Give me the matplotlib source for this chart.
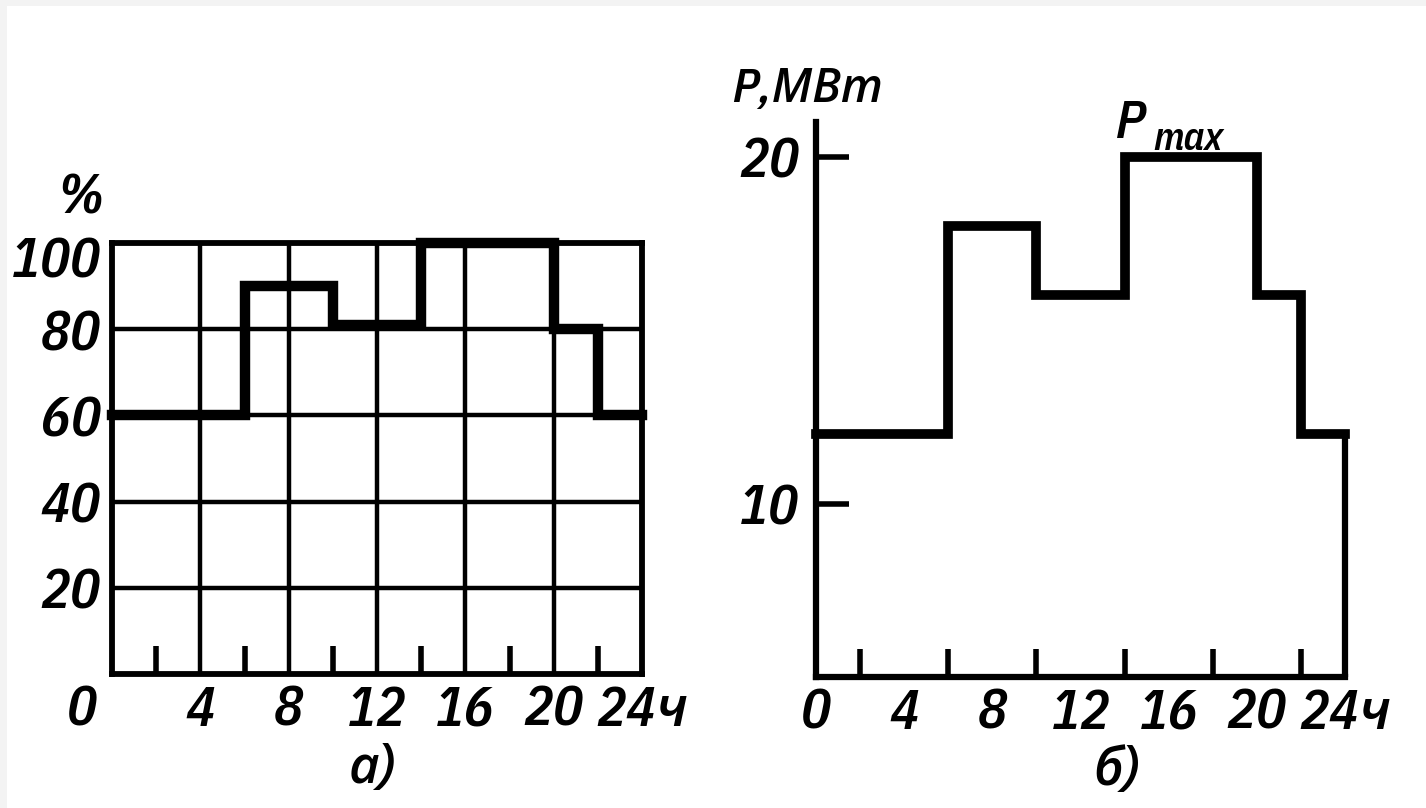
import matplotlib.pyplot as plt
from matplotlib.patches import Rectangle
from matplotlib.transforms import ScaledTranslation

# daily load graphs: a) in % of max, b) in MW
hours = [0, 6, 10, 14, 20, 22, 24]
load_pct = [60, 90, 81, 100, 80, 60]
load_mw = [12, 18, 16, 20, 16, 12]

x_ticks = [0, 4, 8, 12, 16, 20, 24]
x_labels = ["0", "4", "8", "12", "16", "20", "24ч"]
minor_a = [2, 6, 10, 14, 18, 22]
minor_b = [2, 4, 6, 8, 10, 12, 14, 16, 18, 20, 22]
pct_ticks = [20, 40, 60, 80, 100]
mw_ticks = [10, 20]

# condensed italic for digits, Open Sans for the cyrillic letters
plt.rcParams['font.family'] = ['IBM Plex Sans Condensed', 'Open Sans', 'DejaVu Sans']
plt.rcParams['font.style'] = 'italic'
plt.rcParams['font.weight'] = 'semibold'

W, H = 1426, 808
fig = plt.figure(figsize=(W / 100, H / 100), dpi=100)
fig.patch.set_facecolor('#f3f3f3')
fig.patches.append(Rectangle((7 / W, 0), 1, 1 - 6 / H, transform=fig.transFigure,
                             facecolor='white', edgecolor='none', zorder=-5))

def fx(px):
    return px / W

def fy(py):
    return 1 - py / H

# ---- a) ----
ax1 = fig.add_axes([fx(112), fy(674), fx(642) - fx(112), fy(243) - fy(674)])
ax1.set_xlim(0, 24)
ax1.set_ylim(0, 100)
for s in ax1.spines.values():
    s.set_linewidth(4.2)
for x in x_ticks[1:-1]:
    ax1.axvline(x, color='black', lw=3.2, zorder=1)
for y in pct_ticks[:-1]:
    ax1.axhline(y, color='black', lw=3.2, zorder=1)
ax1.step(hours, load_pct + [load_pct[-1]], where='post', color='black', lw=7.5,
         solid_joinstyle='miter', zorder=3, clip_on=False)
ax1.set_xticks(x_ticks)
ax1.set_xticklabels(x_labels)
ax1.set_xticks(minor_a, minor=True)
ax1.set_yticks(pct_ticks)
ax1.tick_params(axis='x', which='major', length=0, pad=7, labelsize=40)
ax1.tick_params(axis='x', which='minor', direction='in', length=20, width=4)
ax1.tick_params(axis='y', length=0, pad=8, labelsize=40)
lab0 = ax1.xaxis.get_major_ticks()[0].label1
lab0.set_transform(lab0.get_transform() + ScaledTranslation(-0.3, 0, fig.dpi_scale_trans))
lab100 = ax1.yaxis.get_major_ticks()[-1].label1
lab100.set_transform(lab100.get_transform() + ScaledTranslation(0, -0.14, fig.dpi_scale_trans))
fig.text(fx(80), fy(198), "%", ha='center', va='center', fontsize=40)
fig.text(fx(372), fy(768), "а)", ha='center', va='center', fontsize=38)

# ---- б) ----
ax2 = fig.add_axes([fx(816), fy(677), fx(1345) - fx(816), fy(122) - fy(677)])
ax2.set_xlim(0, 24)
ax2.set_ylim(5, 21)
ax2.spines['top'].set_visible(False)
ax2.spines['right'].set_visible(False)
ax2.spines['left'].set_linewidth(4.5)
ax2.spines['bottom'].set_linewidth(4.5)
ax2.step(hours, load_mw + [load_mw[-1]], where='post', color='black', lw=7,
         solid_joinstyle='miter', zorder=3, clip_on=False)
ax2.vlines(hours[-1], 5, load_mw[-1], color='black', lw=4.5, zorder=3, clip_on=False)
ax2.set_xticks(x_ticks)
ax2.set_xticklabels(x_labels)
ax2.set_xticks(minor_b, minor=True)
ax2.set_yticks(mw_ticks)
ax2.tick_params(axis='x', which='major', length=0, pad=7, labelsize=40)
ax2.tick_params(axis='x', which='minor', direction='in', length=20, width=4)
ax2.tick_params(axis='y', direction='in', length=24, width=4, pad=12, labelsize=40)
ax2.text(-0.4, 21.95, "P,МВт", ha='center', va='center', fontsize=34)
ax2.text(14.3, 20.95, "P", ha='center', va='center', fontsize=38)
ax2.text(16.9, 20.5, "max", ha='center', va='center', fontsize=28)
fig.text(fx(1117), fy(770), "б)", ha='center', va='center', fontsize=38)

fig.savefig("out.png", dpi=100, facecolor=fig.get_facecolor())
